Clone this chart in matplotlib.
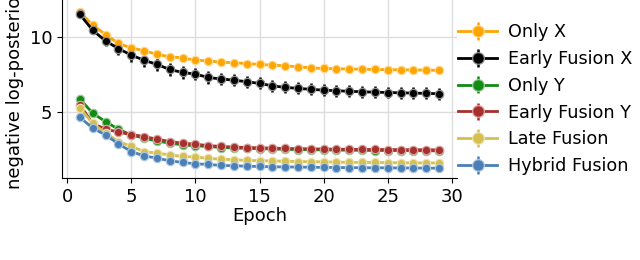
import matplotlib
matplotlib.use("Agg")
import matplotlib.pyplot as plt
import numpy as np
from matplotlib.colors import to_rgb

epochs = list(range(1, 30))

only_x = [11.67, 10.78, 10.16, 9.56, 9.27, 9.07, 8.84, 8.67, 8.60, 8.44, 8.40, 8.31, 8.27, 8.22,
          8.16, 8.11, 8.07, 8.00, 7.93, 7.89, 7.87, 7.85, 7.84, 7.82, 7.81, 7.80, 7.79, 7.78, 7.76]
only_x_err = [0.15, 0.3, 0.25, 0.25, 0.25, 0.25, 0.25, 0.25, 0.25, 0.22, 0.22, 0.22, 0.2, 0.2,
              0.2, 0.2, 0.2, 0.2, 0.2, 0.2, 0.2, 0.2, 0.2, 0.2, 0.2, 0.2, 0.2, 0.2, 0.2]

early_x = [11.50, 10.44, 9.73, 9.22, 8.78, 8.44, 8.16, 7.82, 7.62, 7.51, 7.29, 7.18, 7.11, 7.00,
           6.89, 6.73, 6.62, 6.56, 6.49, 6.44, 6.40, 6.36, 6.33, 6.30, 6.28, 6.26, 6.24, 6.22, 6.20]
early_x_err = [0.15, 0.25, 0.35, 0.4, 0.45, 0.45, 0.45, 0.45, 0.45, 0.42, 0.42, 0.42, 0.4, 0.4,
               0.4, 0.4, 0.4, 0.4, 0.4, 0.4, 0.4, 0.4, 0.4, 0.4, 0.4, 0.4, 0.4, 0.4, 0.4]

only_y = [5.84, 4.89, 4.33, 3.82, 3.44, 3.22, 3.04, 2.89, 2.78, 2.71, 2.67, 2.60, 2.57, 2.54,
          2.52, 2.50, 2.48, 2.46, 2.45, 2.44, 2.43, 2.42, 2.41, 2.40, 2.40, 2.39, 2.39, 2.38, 2.38]
only_y_err = [0.15, 0.1, 0.1, 0.1, 0.1, 0.1, 0.1, 0.1, 0.1, 0.1, 0.1, 0.1, 0.1, 0.1,
              0.1, 0.1, 0.1, 0.1, 0.1, 0.1, 0.1, 0.1, 0.1, 0.1, 0.1, 0.1, 0.1, 0.1, 0.1]

early_y = [5.44, 4.20, 3.84, 3.62, 3.47, 3.33, 3.16, 3.00, 2.89, 2.82, 2.73, 2.67, 2.63, 2.60,
           2.58, 2.56, 2.54, 2.52, 2.51, 2.50, 2.49, 2.48, 2.47, 2.47, 2.46, 2.46, 2.45, 2.45, 2.44]
early_y_err = [0.15, 0.1, 0.1, 0.1, 0.1, 0.1, 0.1, 0.1, 0.1, 0.1, 0.1, 0.1, 0.1, 0.1,
               0.1, 0.1, 0.1, 0.1, 0.1, 0.1, 0.1, 0.1, 0.1, 0.1, 0.1, 0.1, 0.1, 0.1, 0.1]

late = [5.22, 4.22, 3.56, 3.00, 2.67, 2.33, 2.22, 2.11, 2.00, 1.96, 1.87, 1.82, 1.78, 1.74,
        1.72, 1.70, 1.68, 1.66, 1.65, 1.64, 1.62, 1.61, 1.60, 1.60, 1.59, 1.58, 1.57, 1.57, 1.56]
late_err = [0.15, 0.15, 0.12, 0.12, 0.12, 0.12, 0.1, 0.1, 0.1, 0.1, 0.1, 0.1, 0.1, 0.1,
            0.1, 0.1, 0.1, 0.1, 0.1, 0.1, 0.1, 0.1, 0.1, 0.1, 0.1, 0.1, 0.1, 0.1, 0.1]

hybrid = [4.62, 3.89, 3.44, 2.84, 2.33, 2.04, 1.89, 1.71, 1.60, 1.51, 1.47, 1.40, 1.38, 1.35,
          1.33, 1.31, 1.30, 1.29, 1.28, 1.27, 1.26, 1.25, 1.25, 1.24, 1.24, 1.23, 1.23, 1.22, 1.22]
hybrid_err = [0.1, 0.15, 0.15, 0.25, 0.25, 0.25, 0.15, 0.12, 0.1, 0.1, 0.1, 0.1, 0.1, 0.1,
              0.1, 0.1, 0.1, 0.1, 0.1, 0.1, 0.1, 0.1, 0.1, 0.1, 0.1, 0.1, 0.1, 0.1, 0.1]

labels = ["Only X", "Early Fusion X", "Only Y", "Early Fusion Y", "Late Fusion", "Hybrid Fusion"]
series = [only_x, early_x, only_y, early_y, late, hybrid]
errors = [only_x_err, early_x_err, only_y_err, early_y_err, late_err, hybrid_err]
colors = ["#ffa500", "#000000", "#138a13", "#a8302c", "#d4bf50", "#4a80b6"]

plt.rcParams['font.family'] = ['DejaVu Sans']
plt.rcParams['font.size'] = 13

fig = plt.figure(figsize=(6.4, 2.6), dpi=100)
ax = fig.add_axes([62/640, 1 - 178/260, (457-62)/640, 178/260])

for y, e, c, lab in zip(series, errors, colors, labels):
    light = tuple(0.45 * np.array(to_rgb(c)) + 0.55)
    ax.errorbar(epochs, y, yerr=e, color=c, lw=2, marker='o', ms=6,
                mfc=c, mec=light, mew=0.9, elinewidth=1.8, capsize=0, label=lab)

ax.set_xlim(-0.4, 30.4)
ax.set_ylim(0.56, 12.47)
ax.set_xticks([0, 5, 10, 15, 20, 25, 30])
ax.set_yticks([5, 10])
ax.grid(True, color='#dddddd', lw=1)
ax.set_axisbelow(True)
ax.spines['top'].set_visible(False)
ax.spines['right'].set_visible(False)
ax.set_xlabel("Epoch", labelpad=1)
ax.set_ylabel("negative log-posterior", labelpad=4)

leg = ax.legend(loc='upper left', bbox_to_anchor=(0.985, 0.91), frameon=False,
                handlelength=2.2, handletextpad=0.6, labelspacing=0.5, fontsize=12.7,
                borderaxespad=0, markerscale=1.4)

fig.savefig("out.png", dpi=100)
